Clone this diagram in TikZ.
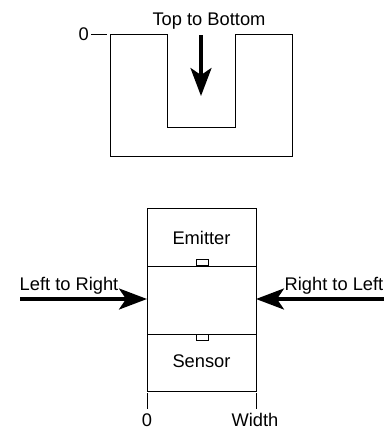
\documentclass[tikz,border=0pt]{standalone}
\usepackage{fontspec}
\setmainfont{Liberation Sans}
\usetikzlibrary{arrows.meta}
\begin{document}
\begin{tikzpicture}[x=1pt,y=-1pt,
  lbl/.style={inner sep=0pt,anchor=base,font=\fontsize{18.3}{21}\selectfont},
  thin/.style={line width=0.9pt,black},
  bigarrow/.style={line width=3.2pt,-{Stealth[length=28pt,width=21pt,inset=7pt]}},
  port/.style={draw,line width=0.8pt,minimum width=12pt,minimum height=6pt,inner sep=0pt,anchor=south}]
\useasboundingbox (0,0) rectangle (391,429);
% top U shape
\draw[thin] (110,34) -- (167,34) -- (167,127) -- (235,127) -- (235,34) -- (292,34) -- (292,156) -- (110,156) -- cycle;
\node[lbl,anchor=base east] (zeroA) at (89,40.5) {0};
\coordinate (zA1) at (91,34);
\coordinate (zA2) at (107,34);
\draw[thin] (zA1) -- (zA2);
\node[lbl] (ttb) at (209,25) {Top to Bottom};
\coordinate (ttbS) at (201,35);
\coordinate (ttbE) at (201,96);
\draw[bigarrow] (ttbS) -- (ttbE);
% bottom box
\coordinate (bTL) at (147,208);
\coordinate (bBR) at (256,391);
\draw[thin] (bTL) rectangle (bBR);
\draw[thin] (147,266) -- (256,266);
\draw[thin] (147,334) -- (256,334);
\node[lbl] (emit) at (201.5,244) {Emitter};
\node[lbl] (sens) at (201.5,367.5) {Sensor};
\node[port] (pE) at (202,266) {};
\node[port,anchor=north] (pS) at (202,334) {};
% ticks
\draw[thin] (147,393) -- (147,409);
\draw[thin] (256,393) -- (256,409);
\node[lbl] (zeroB) at (147,426) {0};
\node[lbl] (width) at (255,426) {Width};
% side arrows
\node[lbl] (ltr) at (69,290) {Left to Right};
\node[lbl] (rtl) at (334,290) {Right to Left};
\coordinate (lS) at (20,299);
\coordinate (lE) at (147,299);
\coordinate (rS) at (384,299);
\coordinate (rE) at (256,299);
\draw[bigarrow] (lS) -- (lE);
\draw[bigarrow] (rS) -- (rE);
\end{tikzpicture}
\end{document}
